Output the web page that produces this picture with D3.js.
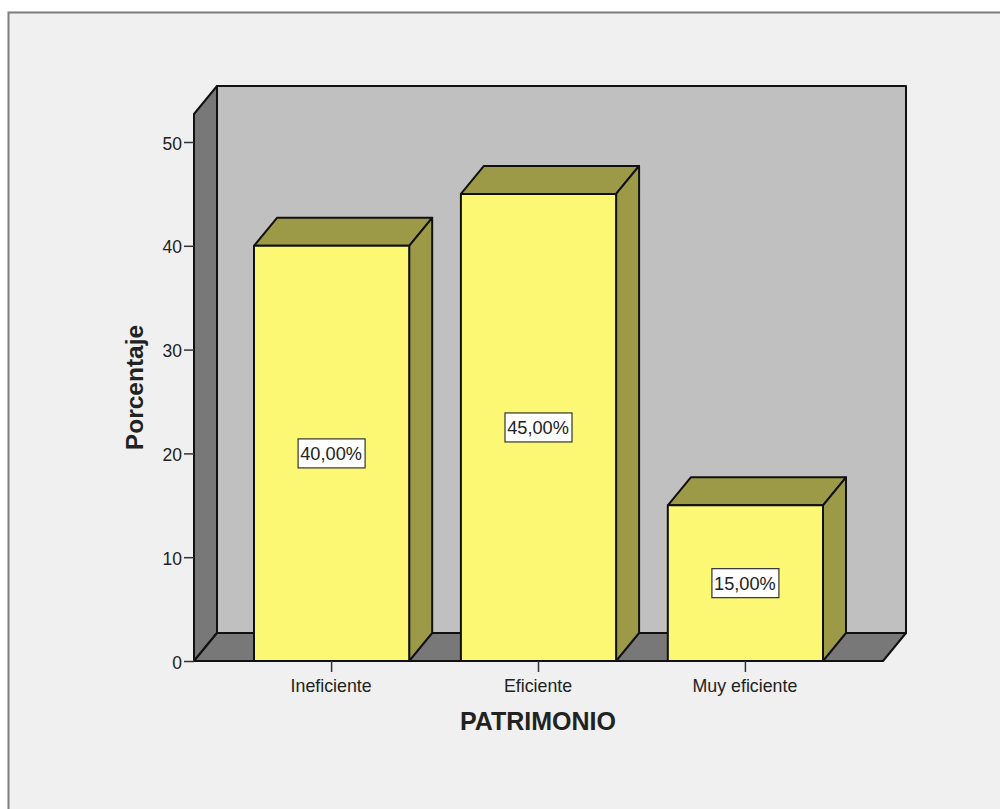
<!DOCTYPE html>
<html>
<head>
<meta charset="utf-8">
<script src="https://cdn.jsdelivr.net/npm/d3@7/dist/d3.min.js"></script>
<style>
  html, body { margin: 0; padding: 0; background: #fff; }
  svg { display: block; }
  text { font-family: "Liberation Sans", Arial, sans-serif; fill: #222; }
</style>
</head>
<body>
<svg id="chart" width="1000" height="809"></svg>
<script>
// Survey result: share of responses per rating of "patrimonio"
const categories = ["Ineficiente", "Eficiente", "Muy eficiente"];
const percentages = [40, 45, 15];
const valueLabels = ["40,00%", "45,00%", "15,00%"];
const yTicks = [0, 10, 20, 30, 40, 50];
const xTitle = "PATRIMONIO";
const yTitle = "Porcentaje";

// Oblique projection offset for the pseudo-3D box
const depth = { x: 23, y: -28 };
const plot = { left: 194, right: 883, top: 114, bottom: 661 };
const ink = "#111";

const svg = d3.select("#chart");

const x = d3.scaleBand()
  .domain(categories)
  .range([plot.left, plot.right])
  .paddingInner(0.25)
  .paddingOuter(0.29);

const y = d3.scaleLinear()
  .domain([0, 50])
  .range([plot.bottom, 142]);

const polyline = pts => pts.map(p => p.join(",")).join(" ");
const shifted = ([px, py]) => [px + depth.x, py + depth.y];

// Window panel behind the chart
svg.append("rect")
  .attr("x", 8.5).attr("y", 12.5)
  .attr("width", 1100).attr("height", 900)
  .attr("fill", "#f0f0f0")
  .attr("stroke", "#7d7d7d")
  .attr("stroke-width", 2);

const box = svg.append("g")
  .attr("stroke", ink)
  .attr("stroke-width", 2)
  .attr("stroke-linejoin", "round");

const topY = plot.top;

// Back wall
box.append("polygon")
  .attr("points", polyline([
    shifted([plot.left, topY]),
    shifted([plot.right, topY]),
    shifted([plot.right, plot.bottom]),
    shifted([plot.left, plot.bottom])
  ]))
  .attr("fill", "#c0c0c0");

// Left side wall
box.append("polygon")
  .attr("points", polyline([
    [plot.left, topY],
    shifted([plot.left, topY]),
    shifted([plot.left, plot.bottom]),
    [plot.left, plot.bottom]
  ]))
  .attr("fill", "#787878");

// Floor
box.append("polygon")
  .attr("points", polyline([
    [plot.left, plot.bottom],
    shifted([plot.left, plot.bottom]),
    shifted([plot.right, plot.bottom]),
    [plot.right, plot.bottom]
  ]))
  .attr("fill", "#787878");

// Bars: side and top faces in the shaded tone, front face in the light tone
const bars = box.selectAll("g.bar")
  .data(categories.map((c, i) => ({ c, v: percentages[i], label: valueLabels[i] })))
  .join("g")
  .attr("class", "bar");

bars.append("polygon")
  .attr("fill", "#9c9a47")
  .attr("points", d => {
    const l = x(d.c), r = l + x.bandwidth(), t = y(d.v);
    return polyline([[l, t], shifted([l, t]), shifted([r, t]), [r, t]]);
  });

bars.append("polygon")
  .attr("fill", "#9c9a47")
  .attr("points", d => {
    const r = x(d.c) + x.bandwidth(), t = y(d.v);
    return polyline([[r, t], shifted([r, t]), shifted([r, plot.bottom]), [r, plot.bottom]]);
  });

bars.append("rect")
  .attr("fill", "#fcf873")
  .attr("x", d => x(d.c))
  .attr("y", d => y(d.v))
  .attr("width", x.bandwidth())
  .attr("height", d => plot.bottom - y(d.v));

// Value labels in boxed tags at mid-height of each bar
const tags = svg.selectAll("g.tag")
  .data(categories.map((c, i) => ({ c, v: percentages[i], label: valueLabels[i] })))
  .join("g")
  .attr("class", "tag")
  .attr("transform", d => `translate(${x(d.c) + x.bandwidth() / 2},${y(d.v / 2)})`);

tags.append("rect")
  .attr("x", -33.5).attr("y", -14.5)
  .attr("width", 67).attr("height", 29)
  .attr("fill", "#fff")
  .attr("stroke", "#333")
  .attr("stroke-width", 1.2);

tags.append("text")
  .attr("text-anchor", "middle")
  .attr("x", -0.5)
  .attr("y", 6.5)
  .attr("font-size", 18.2)
  .text(d => d.label);

// Value axis
const yAxis = svg.append("g")
  .attr("transform", `translate(${plot.left},0)`)
  .call(d3.axisLeft(y).tickValues(yTicks).tickSize(10).tickPadding(2).tickFormat(d3.format("d")));
yAxis.select(".domain").remove();
yAxis.selectAll("line").attr("stroke", "#333").attr("stroke-width", 1.5);
yAxis.selectAll("text")
  .attr("dy", "0.4em")
  .attr("font-size", 17.5)
  .attr("font-family", '"Liberation Sans", Arial, sans-serif')
  .attr("fill", "#222");

// Category axis
const xAxis = svg.append("g")
  .attr("transform", `translate(0,${plot.bottom})`)
  .call(d3.axisBottom(x).tickSize(11).tickPadding(7));
xAxis.select(".domain").remove();
xAxis.selectAll("line").attr("stroke", "#333").attr("stroke-width", 1.5);
xAxis.selectAll("text")
  .attr("x", -0.5)
  .attr("font-size", 17.8)
  .attr("font-family", '"Liberation Sans", Arial, sans-serif')
  .attr("fill", "#222");

// Axis titles
svg.append("text")
  .attr("x", 538).attr("y", 730)
  .attr("text-anchor", "middle")
  .attr("font-size", 25)
  .attr("font-weight", "bold")
  .text(xTitle);

svg.append("text")
  .attr("transform", "translate(143,387.5) rotate(-90)")
  .attr("text-anchor", "middle")
  .attr("font-size", 24.5)
  .attr("font-weight", "bold")
  .text(yTitle);
</script>
</body>
</html>
